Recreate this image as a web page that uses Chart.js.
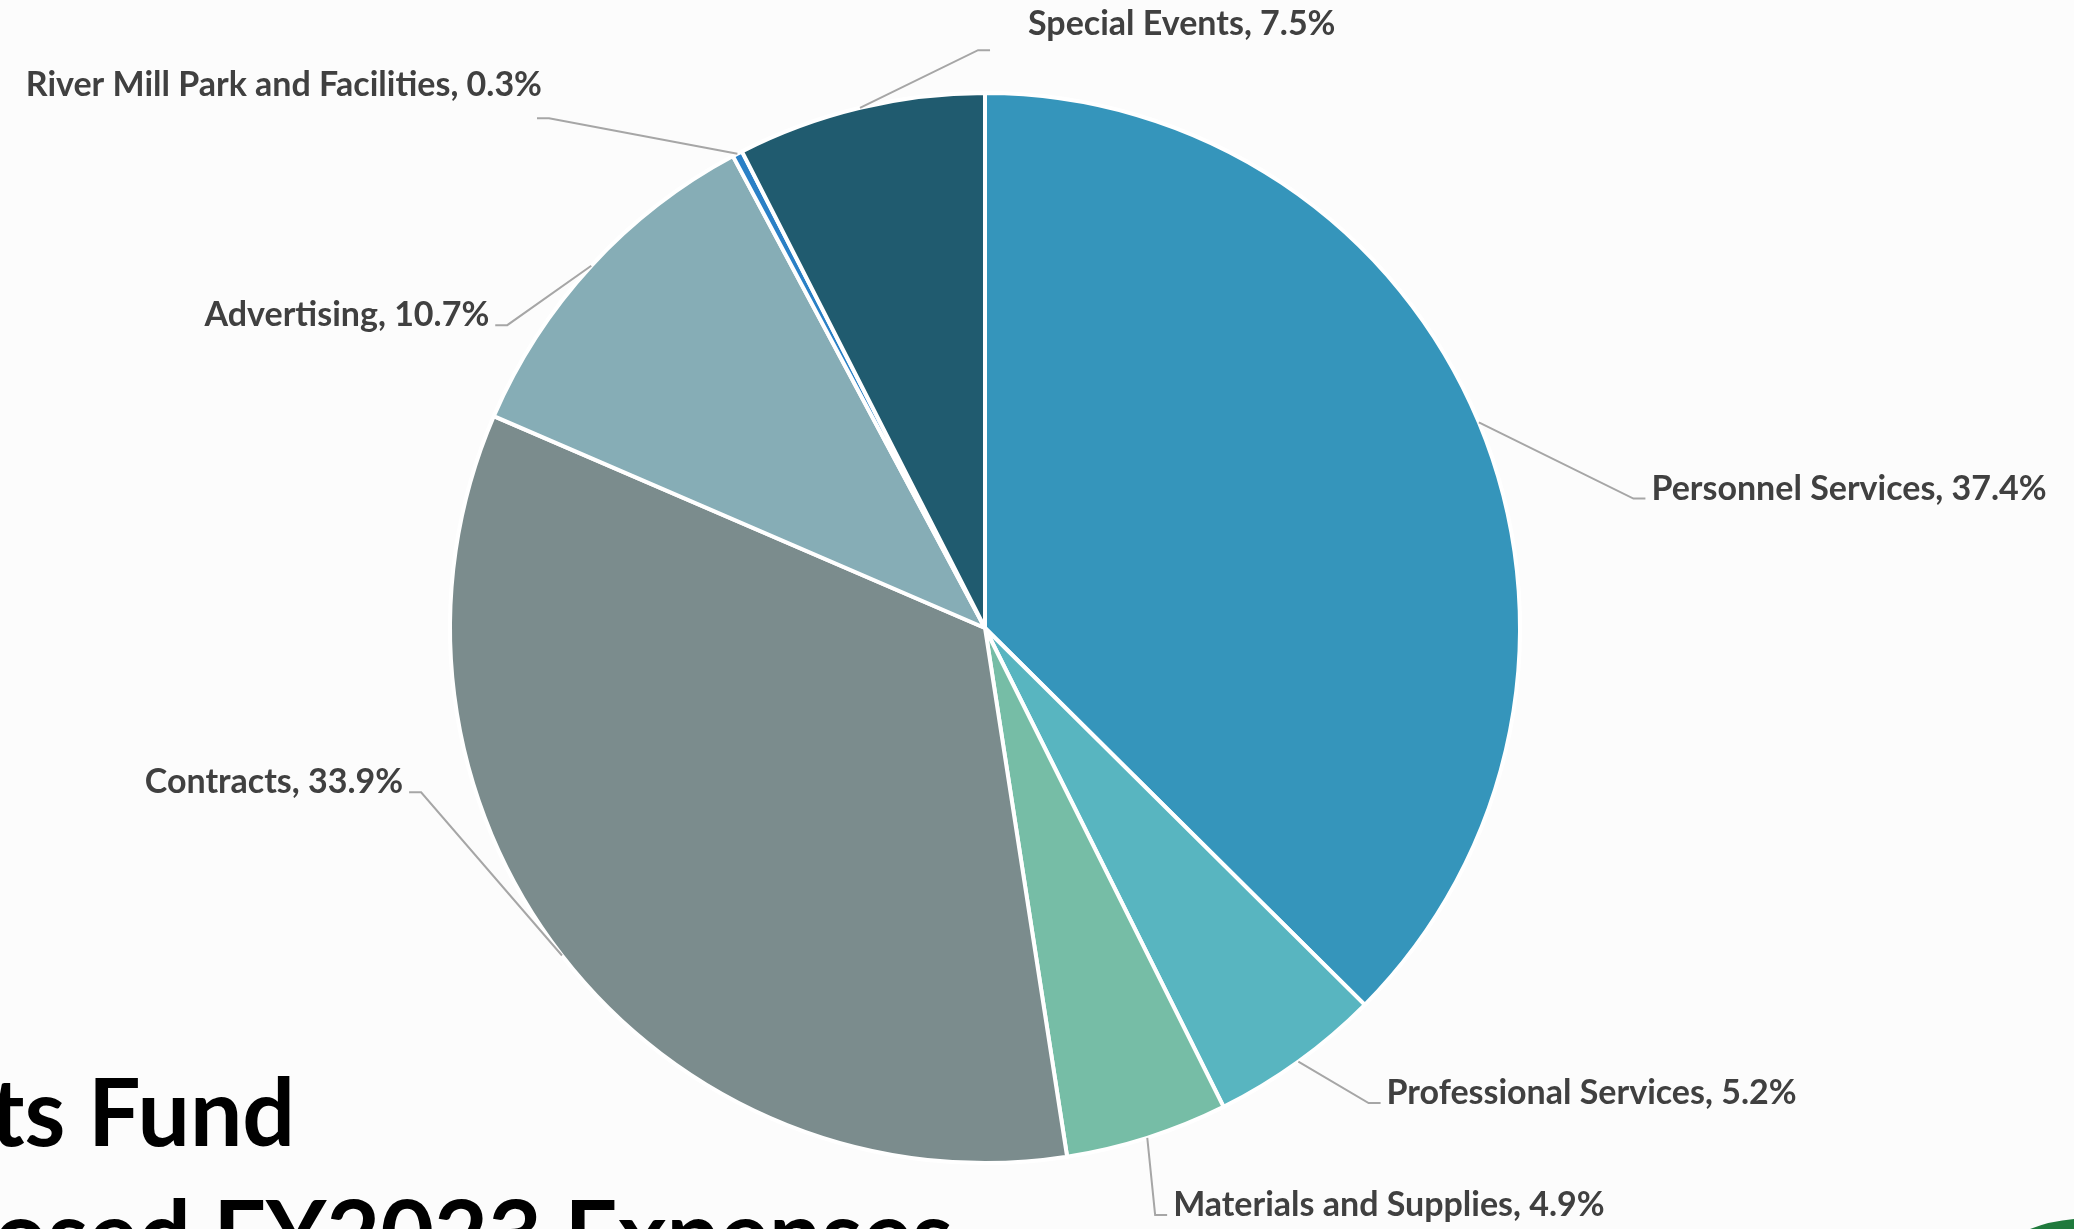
<!DOCTYPE html>
<html>
<head>
<meta charset="utf-8">
<title>Proposed FY2023 Expenses</title>
<script src="https://cdn.jsdelivr.net/npm/chart.js@4.4.0/dist/chart.umd.min.js"></script>
<style>
  html, body { margin: 0; padding: 0; background: #fcfcfc; overflow: hidden; }
  #wrap { position: relative; width: 2074px; height: 1229px; }
  canvas { display: block; }
</style>
</head>
<body>
<div id="wrap"><canvas id="expense-chart" width="2074" height="1229"></canvas></div>
<script>
const categories = [
  "Personnel Services",
  "Professional Services",
  "Materials and Supplies",
  "Contracts",
  "Advertising",
  "River Mill Park and Facilities",
  "Special Events",
];
const shares = [37.4, 5.2, 4.9, 33.9, 10.7, 0.3, 7.5];
const sliceColors = ["#3595bb", "#58b5c0", "#76bda6", "#7b8c8d", "#86adb6", "#2a80c6", "#205b6f"];
const titleLines = ["ts Fund", "osed FY2023 Expenses"];

// bend point of each leader line, in pie radii from the centre;
// side = which way the label runs, tx/ty nudge the text off the line end
const leaderBends = [
  { x: 1.212, y: -0.242, side: 1 },
  { x: 0.717, y: 0.888, side: 1 },
  { x: 0.318, y: 1.097, side: 1 },
  { x: -1.054, y: 0.307, side: -1 },
  { x: -0.893, y: -0.566, side: -1 },
  { x: -0.815, y: -0.953, side: -1, tx: 5, ty: -22 },
  { x: -0.013, y: -1.080, side: 1, tx: 38, ty: -15 },
];

const LABEL_FONT = "bold 34px Lato";
const LABEL_COLOR = "#404040";
const LEADER_COLOR = "#a6a6a6";

const leaderLabels = {
  id: "leaderLabels",
  afterDraw(chart) {
    const ctx = chart.ctx;
    const arcs = chart.getDatasetMeta(0).data;

    ctx.save();
    ctx.font = LABEL_FONT;
    ctx.textBaseline = "alphabetic";

    arcs.forEach((arc, i) => {
      const bend = leaderBends[i];
      const r = arc.outerRadius;
      const mid = (arc.startAngle + arc.endAngle) / 2;
      const sx = arc.x + Math.cos(mid) * r;
      const sy = arc.y + Math.sin(mid) * r;
      const bx = arc.x + bend.x * r;
      const by = arc.y + bend.y * r;
      const ex = bx + bend.side * 12;

      ctx.strokeStyle = LEADER_COLOR;
      ctx.lineWidth = 2;
      ctx.beginPath();
      ctx.moveTo(sx, sy);
      ctx.lineTo(bx, by);
      ctx.lineTo(ex, by);
      ctx.stroke();

      const text = `${categories[i]}, ${shares[i].toFixed(1)}%`;
      ctx.fillStyle = LABEL_COLOR;
      ctx.textAlign = bend.side > 0 ? "left" : "right";
      const tx = bend.tx !== undefined ? bend.tx : bend.side * 6;
      const ty = bend.ty !== undefined ? bend.ty : 1;
      ctx.fillText(text, ex + tx, by + ty);
    });

    // slide title, running off the lower left corner
    ctx.fillStyle = "#000000";
    ctx.textAlign = "left";
    ctx.font = "bold 93px Lato";
    ctx.fillText(titleLines[0], -10, 1146);
    ctx.fillText(titleLines[1], -6, 1268);

    // corner of the green logo
    ctx.fillStyle = "#1f7a3c";
    ctx.beginPath();
    ctx.moveTo(2030, 1229);
    ctx.quadraticCurveTo(2050, 1221, 2074, 1219);
    ctx.lineTo(2074, 1229);
    ctx.closePath();
    ctx.fill();

    ctx.restore();
  },
};

new Chart(document.getElementById("expense-chart"), {
  type: "pie",
  data: {
    labels: categories,
    datasets: [{
      data: shares,
      backgroundColor: sliceColors,
      borderColor: "#ffffff",
      borderWidth: 4,
    }],
  },
  options: {
    responsive: false,
    animation: false,
    layout: {
      padding: { left: 448, right: 552, top: 91, bottom: 64 },
    },
    plugins: {
      legend: { display: false },
      tooltip: { enabled: false },
    },
  },
  plugins: [leaderLabels],
});
</script>
</body>
</html>
